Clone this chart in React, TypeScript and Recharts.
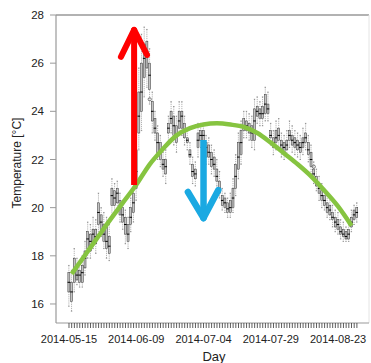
import React from 'react';
import { ComposedChart, Bar, Line, Scatter, XAxis, YAxis, ReferenceLine, Label } from 'recharts';

// Daily temperature box statistics, 2014-05-15 .. 2014-08-30 (index = day offset)
const medians = [16.9,16.5,17.4,17.2,17.2,17.3,17.9,18.7,18.6,18.9,18.8,19.8,19.4,18.9,18.6,18.4,20.5,20.4,20.6,20.0,19.7,19.3,18.9,19.6,20.2,21.5,23.8,24.8,26.2,26.5,25.5,24.0,23.3,22.7,22.3,21.8,21.7,23.3,23.7,23.4,23.0,23.6,23.8,23.2,22.8,22.2,21.5,21.4,22.8,23.0,23.0,22.5,22.3,22.0,21.8,21.3,20.8,20.3,20.2,19.95,20.0,20.4,21.3,22.1,22.7,23.4,23.4,23.3,23.1,23.6,24.0,23.9,23.9,24.3,24.1,23.0,22.7,22.9,23.0,22.6,22.5,22.6,23.0,22.8,22.7,22.6,22.5,22.7,22.9,22.4,22.0,21.4,21.1,20.8,20.5,20.3,20.0,19.9,19.6,19.4,19.3,19.0,18.9,18.8,18.9,19.4,19.7,19.8];
const q1s = [16.5,16.1,16.9,17.0,16.9,16.9,17.5,18.3,18.2,18.6,18.5,19.3,19.1,18.6,18.3,18.1,20.1,20.1,20.2,19.7,19.4,18.9,18.6,19.3,19.8,20.8,23.1,24.0,25.4,25.8,24.9,23.6,23.1,22.3,22.0,21.6,21.4,23.1,23.5,23.0,22.7,23.3,23.3,22.9,22.7,22.1,21.3,21.2,22.5,22.8,22.8,22.1,22.1,21.7,21.6,21.1,20.6,20.1,20.0,19.8,19.8,20.0,20.8,21.6,22.2,23.2,23.2,23.1,22.8,22.8,23.8,23.7,23.7,23.9,23.9,22.9,22.5,22.7,22.8,22.4,22.3,22.4,22.8,22.6,22.5,22.4,22.3,22.5,22.7,22.2,21.7,21.3,20.9,20.6,20.3,20.1,19.8,19.7,19.5,19.2,19.1,18.9,18.8,18.7,18.7,19.2,19.5,19.6];
const q3s = [17.3,16.9,17.9,17.5,17.4,17.6,18.2,19.0,18.9,19.1,19.1,20.2,19.7,19.3,19.2,18.8,20.8,20.7,20.8,20.3,20.0,19.6,19.3,20.0,20.6,22.4,24.8,26.0,26.8,26.9,26.0,24.4,23.7,23.1,22.7,22.0,22.0,23.5,24.0,23.8,23.4,24.0,24.0,23.5,22.9,22.4,21.8,21.6,23.1,23.2,23.2,22.7,22.6,22.3,22.1,21.6,21.1,20.5,20.4,20.2,20.3,20.8,21.8,22.7,23.2,23.7,23.6,23.5,23.4,24.1,24.2,24.1,24.2,24.7,24.3,23.2,22.9,23.2,23.3,22.8,22.7,22.8,23.2,23.0,22.9,22.8,22.7,22.9,23.1,22.7,22.3,21.6,21.3,21.0,20.7,20.5,20.2,20.1,19.8,19.6,19.5,19.2,19.1,19.0,19.1,19.6,19.9,20.0];
const lows = [15.9,15.7,16.5,16.8,16.7,16.7,17.2,17.9,17.9,18.3,18.1,18.8,18.8,18.3,17.9,17.8,19.6,19.8,19.9,19.4,19.1,18.5,18.3,19.0,19.4,20.3,22.4,23.2,24.6,25.0,24.3,23.1,22.8,22.0,21.7,21.3,21.0,22.7,23.1,22.6,22.3,23.0,23.0,22.6,22.4,21.8,21.0,20.9,22.1,22.5,22.6,21.8,21.8,21.4,21.3,20.9,20.4,19.9,19.8,19.6,19.6,19.8,20.5,21.2,21.8,22.9,22.9,22.8,22.5,22.4,23.5,23.4,23.4,23.6,23.6,22.6,22.2,22.4,22.5,22.1,22.0,22.1,22.5,22.3,22.2,22.1,22.0,22.2,22.4,21.9,21.4,21.0,20.7,20.3,20.0,19.9,19.6,19.5,19.2,19.0,18.9,18.7,18.6,18.6,18.6,19.0,19.3,19.4];
const highs = [17.6,17.4,18.3,17.9,17.7,18.0,18.6,19.4,19.3,19.6,19.5,20.6,20.0,19.8,19.6,19.3,21.2,21.0,21.1,20.6,20.3,19.9,19.6,20.4,21.0,23.2,25.8,27.2,27.5,27.4,26.6,24.8,24.0,23.4,23.0,22.3,22.4,23.8,24.4,24.2,23.8,24.4,24.4,23.8,23.2,22.7,22.1,21.9,23.5,23.5,23.5,23.0,22.9,22.6,22.4,22.0,21.5,20.8,20.6,20.4,20.6,21.2,22.2,23.1,23.6,24.0,24.0,23.9,23.8,24.5,24.6,24.4,24.6,25.0,24.8,23.5,23.2,23.6,23.7,23.1,23.0,23.2,23.6,23.4,23.2,23.1,23.0,23.3,23.5,23.0,22.6,21.9,21.6,21.3,21.0,20.8,20.5,20.4,20.1,19.9,19.8,19.5,19.4,19.2,19.3,19.9,20.1,20.2];

// Outlier points
const outlierDays = [30, 91];
const outlierValues = [24.5, 21.7];

// Smooth trend (green)
const trendDays = [1,5,10,15,20,25,30,35,40,45,50,55,60,65,70,75,80,85,90,95,100,105];
const trendValues = [17.25,17.88,18.66,19.45,20.2,20.95,21.8,22.45,23.0,23.3,23.45,23.5,23.45,23.35,23.1,22.7,22.25,21.8,21.3,20.7,20.05,19.25];

// x tick labels
const tickDays = [0, 25, 50, 75, 100];
const tickLabels = ['2014-05-15', '2014-06-09', '2014-07-04', '2014-07-29', '2014-08-23'];
const yTicks = [16, 18, 20, 22, 24, 26, 28];

// Arrows (day, value)
const redShaft = [{ x: 24.2, y: 20.94 }, { x: 24.2, y: 27.38 }];
const redLeft = [{ x: 24.2, y: 27.38 }, { x: 19.3, y: 26.26 }];
const redRight = [{ x: 24.2, y: 27.38 }, { x: 29.0, y: 26.34 }];
const blueShaft = [{ x: 50.0, y: 22.81 }, { x: 50.0, y: 19.57 }];
const blueLeft = [{ x: 50.0, y: 19.57 }, { x: 44.2, y: 20.65 }];
const blueRight = [{ x: 50.0, y: 19.57 }, { x: 55.5, y: 20.73 }];

const data = medians.map((m, i) => {
  const ti = trendDays.indexOf(i);
  return {
    i,
    med: m,
    q1: q1s[i],
    q3: q3s[i],
    lo: lows[i],
    hi: highs[i],
    range: [lows[i], highs[i]],
    trend: ti >= 0 ? trendValues[ti] : null,
  };
});

const outliers = outlierDays.map((d, k) => ({ i: d, v: outlierValues[k] }));

const allDays = medians.map((_, i) => i);

const BoxShape = (props: any) => {
  const { x, y, width, height, payload } = props;
  if (!payload) return null;
  const top = Math.min(y, y + height);
  const h = Math.abs(height);
  const { lo, q1, med, q3, hi } = payload;
  const py = (v: number) => top + ((hi - v) / (hi - lo)) * h;
  const cx = x + width / 2;
  const bw = 2.0;
  return (
    <g>
      <line x1={cx} x2={cx} y1={py(hi)} y2={py(q3)} stroke="#555" strokeWidth={0.45} strokeDasharray="1.2 0.9" />
      <line x1={cx} x2={cx} y1={py(q1)} y2={py(lo)} stroke="#555" strokeWidth={0.45} strokeDasharray="1.2 0.9" />
      <line x1={cx - 0.7} x2={cx + 0.7} y1={py(hi)} y2={py(hi)} stroke="#444" strokeWidth={0.5} />
      <line x1={cx - 0.7} x2={cx + 0.7} y1={py(lo)} y2={py(lo)} stroke="#444" strokeWidth={0.5} />
      <rect x={cx - bw / 2} y={py(q3)} width={bw} height={Math.max(py(q1) - py(q3), 0.5)} fill="#c4c4c4" stroke="#333" strokeWidth={0.5} />
      <line x1={cx - bw / 2 - 0.3} x2={cx + bw / 2 + 0.3} y1={py(med)} y2={py(med)} stroke="#000" strokeWidth={1} />
    </g>
  );
};

const OutlierShape = (props: any) => {
  const { cx, cy } = props;
  return <circle cx={cx} cy={cy} r={1.6} fill="none" stroke="#333" strokeWidth={0.6} />;
};

const labelFor = (v: number) => {
  const k = tickDays.indexOf(v);
  return k >= 0 ? tickLabels[k] : '';
};

export default function App() {
  return (
    <div style={{ position: 'absolute', left: 0, top: 0, width: 371, height: 363, background: '#fff', fontFamily: '"Liberation Sans", Arial, sans-serif' }}>
      <ComposedChart width={371} height={363} data={data} margin={{ top: 15, right: 2, bottom: 0, left: 0 }}>
        <XAxis
          type="number"
          dataKey="i"
          domain={[-4.83, 111.5]}
          ticks={allDays}
          interval={0}
          tickFormatter={labelFor}
          allowDataOverflow
          height={40}
          tickSize={5}
          tickMargin={7}
          tick={{ fontSize: 11, fill: '#222' }}
          tickLine={{ stroke: '#333', strokeWidth: 0.8 }}
          axisLine={{ stroke: '#999', strokeWidth: 1.2 }}
        >
          <Label
            content={() => (
              <text x={214} y={360.5} textAnchor="middle" fontSize={13} fill="#222">Day</text>
            )}
          />
        </XAxis>
        <YAxis
          type="number"
          domain={[15.21, 28]}
          ticks={yTicks}
          interval={0}
          allowDataOverflow
          width={56}
          tickSize={6}
          tickMargin={6}
          tick={{ fontSize: 11.5, fill: '#222' }}
          tickLine={{ stroke: '#999' }}
          axisLine={{ stroke: '#999', strokeWidth: 1.2 }}
        >
          <Label
            content={() => (
              <text x={17} y={163} transform="rotate(-90 17 163)" textAnchor="middle" dominantBaseline="central" fontSize={12} fill="#222">
                Temperature [°C]
              </text>
            )}
          />
        </YAxis>
        <ReferenceLine y={28} stroke="#999" strokeWidth={1.5} ifOverflow="visible" />
        <ReferenceLine x={111.5} stroke="#e4e4e4" strokeWidth={1} ifOverflow="visible" />
        <Bar dataKey="range" barSize={3} shape={<BoxShape />} isAnimationActive={false} />
        <Scatter data={outliers} dataKey="v" shape={<OutlierShape />} isAnimationActive={false} />
        <Line dataKey="trend" type="monotone" connectNulls stroke="#86c440" strokeWidth={4.5} dot={false} activeDot={false} isAnimationActive={false} />
        <ReferenceLine segment={redShaft} stroke="#ff0000" strokeWidth={6} ifOverflow="visible" />
        <ReferenceLine segment={redLeft} stroke="#ff0000" strokeWidth={6} strokeLinecap="round" ifOverflow="visible" />
        <ReferenceLine segment={redRight} stroke="#ff0000" strokeWidth={6} strokeLinecap="round" ifOverflow="visible" />
        <ReferenceLine segment={blueShaft} stroke="#1aa9e2" strokeWidth={6.5} ifOverflow="visible" />
        <ReferenceLine segment={blueLeft} stroke="#1aa9e2" strokeWidth={6.5} strokeLinecap="round" ifOverflow="visible" />
        <ReferenceLine segment={blueRight} stroke="#1aa9e2" strokeWidth={6.5} strokeLinecap="round" ifOverflow="visible" />
      </ComposedChart>
    </div>
  );
}
